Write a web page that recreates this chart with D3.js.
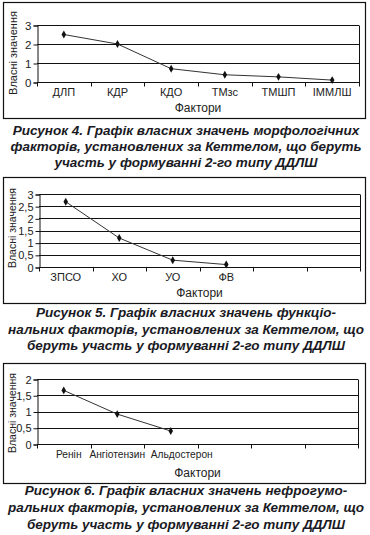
<!DOCTYPE html>
<html>
<head>
<meta charset="utf-8">
<script src="https://cdn.jsdelivr.net/npm/d3@7"></script>
<style>
  body { margin: 0; background: #fff; }
  svg { display: block; }
  text { font-family: "Liberation Sans", Arial, sans-serif; fill: #222; }
</style>
</head>
<body>
<svg id="page" width="370" height="535"></svg>
<script>
// Chart values
var morphCategories = ["ДЛП", "КДР", "КДО", "ТМзс", "ТМШП", "ІММЛШ"];
var morphValues = [2.5, 2.0, 0.7, 0.38, 0.27, 0.1];
var morphTicks = [0, 1, 2, 3];

var funcCategories = ["ЗПСО", "ХО", "УО", "ФВ", "", ""];
var funcValues = [2.68, 1.19, 0.28, 0.1];
var funcTicks = [0, 0.5, 1, 1.5, 2, 2.5, 3];

var nephroCategories = ["Ренін", "Ангіотензин", "Альдостерон", "", "", ""];
var nephroValues = [1.65, 0.92, 0.4];
var nephroTicks = [0, 0.5, 1, 1.5, 2];

var yTitle = "Власні значення";
var xTitle = "Фактори";

var caption4 = ["Рисунок 4. Графік власних значень морфологічних",
                "факторів, установлених за Кеттелом, що беруть",
                "участь у формуванні 2-го типу ДДЛШ"];
var caption5 = ["Рисунок 5. Графік власних значень функціо-",
                "нальних факторів, установлених за Кеттелом, що",
                "беруть участь у формуванні 2-го типу ДДЛШ"];
var caption6 = ["Рисунок 6. Графік власних значень нефрогумо-",
                "ральних факторів, установлених за Кеттелом, що",
                "беруть участь у формуванні 2-го типу ДДЛШ"];

var svg = d3.select("#page");

// format ticks with a decimal comma
function commaFmt(d) { return String(d).replace(".", ","); }

/** Draws one framed line chart.
 * cfg.box is the outer frame, cfg.plot the inner plotting area.
 */
function draw_chart(cfg) {
  var g = svg.append("g");

  g.append("rect")
    .attr("x", cfg.box.x + 0.5).attr("y", cfg.box.y + 0.5)
    .attr("width", cfg.box.w).attr("height", cfg.box.h)
    .attr("fill", "none").attr("stroke", "#111").attr("stroke-width", 1.2);

  var x = d3.scaleBand()
            .domain(d3.range(cfg.categories.length))
            .range([cfg.plot.left, cfg.plot.right]);
  var y = d3.scaleLinear()
            .domain([0, d3.max(cfg.ticks)])
            .range([cfg.plot.bottom, cfg.plot.top]);

  // gridlines
  g.append("g").selectAll("line")
    .data(cfg.ticks.filter(function(d) { return d > 0; }))
    .join("line")
    .attr("x1", cfg.plot.left).attr("x2", cfg.plot.right)
    .attr("y1", function(d) { return Math.round(y(d)) + 0.5; })
    .attr("y2", function(d) { return Math.round(y(d)) + 0.5; })
    .attr("stroke", "#111").attr("stroke-width", 1);

  // right edge of plot area
  g.append("line")
    .attr("x1", cfg.plot.right + 0.5).attr("x2", cfg.plot.right + 0.5)
    .attr("y1", Math.round(y(d3.max(cfg.ticks))) + 0.5)
    .attr("y2", Math.round(cfg.plot.bottom) + 0.5)
    .attr("stroke", "#111");

  // y axis
  var yAxis = g.append("g")
    .attr("transform", "translate(" + (cfg.plot.left + 0.5) + ",0.5)")
    .call(d3.axisLeft(y).tickValues(cfg.ticks).tickFormat(commaFmt).tickSize(4).tickPadding(2));
  yAxis.select(".domain").attr("stroke", "#111");
  yAxis.selectAll(".tick line").attr("stroke", "#111");
  yAxis.selectAll(".tick text")
    .style("font-size", cfg.tickFont + "px")
    .style("fill", "#222")
    .style("font-family", "Liberation Sans, Arial, sans-serif");

  // x axis: ticks at band boundaries
  var bounds = x.domain().map(function(d) { return x(d); }).concat([cfg.plot.right]);
  g.append("line")
    .attr("x1", cfg.plot.left).attr("x2", cfg.plot.right + 1)
    .attr("y1", Math.round(cfg.plot.bottom) + 0.5).attr("y2", Math.round(cfg.plot.bottom) + 0.5)
    .attr("stroke", "#111");
  g.append("g").selectAll("line")
    .data(bounds)
    .join("line")
    .attr("x1", function(d) { return Math.round(d) + 0.5; })
    .attr("x2", function(d) { return Math.round(d) + 0.5; })
    .attr("y1", Math.round(cfg.plot.bottom))
    .attr("y2", Math.round(cfg.plot.bottom) + 4.5)
    .attr("stroke", "#111");

  g.append("g").selectAll("text")
    .data(cfg.categories)
    .join("text")
    .attr("x", function(d, i) { return x(i) + x.bandwidth() / 2 + (cfg.labelShift ? cfg.labelShift[i] : 0); })
    .attr("y", cfg.labelY)
    .attr("text-anchor", "middle")
    .style("font-size", cfg.labelFont + "px")
    .text(function(d) { return d; });

  // titles
  g.append("text")
    .attr("x", (cfg.plot.left + cfg.plot.right) / 2)
    .attr("y", cfg.xTitleY)
    .attr("text-anchor", "middle")
    .style("font-size", "12px")
    .text(xTitle);

  g.append("text")
    .attr("transform", "translate(" + cfg.yTitleX + "," + cfg.yTitleY + ") rotate(-90)")
    .attr("text-anchor", "middle")
    .style("font-size", cfg.yTitleFont + "px")
    .text(yTitle);

  // series
  var pts = cfg.values.map(function(v, i) { return [x(i) + x.bandwidth() / 2, y(v)]; });
  g.append("path")
    .datum(pts)
    .attr("fill", "none")
    .attr("stroke", "#333")
    .attr("stroke-width", 1)
    .attr("d", d3.line());

  g.append("g").selectAll("path")
    .data(pts)
    .join("path")
    .attr("transform", function(d) { return "translate(" + d[0] + "," + d[1] + ")"; })
    .attr("d", d3.symbol(d3.symbolDiamond, 18))
    .attr("fill", "#111");

  // caption
  g.append("g").selectAll("text")
    .data(cfg.caption)
    .join("text")
    .attr("x", 186)
    .attr("y", function(d, i) { return cfg.captionY + i * cfg.captionStep; })
    .attr("text-anchor", "middle")
    .style("font-size", "13.5px")
    .style("font-weight", "bold")
    .style("font-style", "italic")
    .style("fill", "#1a1a24")
    .text(function(d) { return d; });
}

draw_chart({
  categories: morphCategories, values: morphValues, ticks: morphTicks,
  box: {x: 3, y: 2, w: 362, h: 116},
  plot: {left: 37, right: 359, top: 25, bottom: 82},
  tickFont: 11.5, labelFont: 11, labelY: 96, xTitleY: 112,
  yTitleX: 17, yTitleY: 53, yTitleFont: 11,
  caption: caption4, captionY: 135, captionStep: 16
});

draw_chart({
  categories: funcCategories, values: funcValues, ticks: funcTicks,
  box: {x: 3, y: 177, w: 362, h: 126},
  plot: {left: 39, right: 360, top: 194, bottom: 267},
  tickFont: 11, labelFont: 11, labelY: 281, xTitleY: 297,
  yTitleX: 16, yTitleY: 228, yTitleFont: 10.5,
  caption: caption5, captionY: 317, captionStep: 16.5
});

draw_chart({
  categories: nephroCategories, values: nephroValues, ticks: nephroTicks,
  box: {x: 3, y: 363, w: 362, h: 120},
  plot: {left: 37, right: 358, top: 379, bottom: 444},
  tickFont: 11, labelFont: 10.2, labelY: 458, xTitleY: 477,
  labelShift: [5, 0, 11, 0, 0, 0],
  yTitleX: 16, yTitleY: 413, yTitleFont: 10.5,
  caption: caption6, captionY: 495, captionStep: 17
});
</script>
</body>
</html>
